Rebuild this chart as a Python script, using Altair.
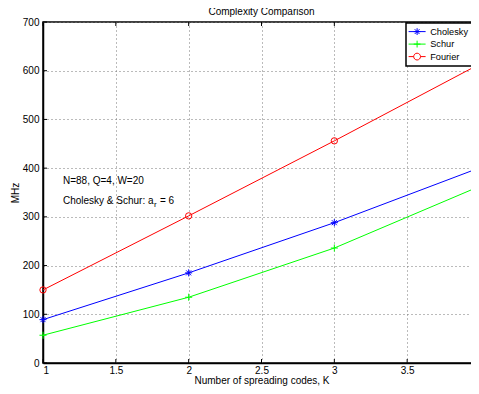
import altair as alt
import pandas as pd

# ---- data ----
K = [1, 2, 3, 4]
cholesky = [89, 185, 288, 401]
schur = [57, 135, 236, 363]
fourier = [150, 302, 456, 614]
series_names = ["Cholesky", "Schur", "Fourier"]
series_colors = ["#0000ff", "#00ff00", "#ff0000"]
x_ticks = [1, 1.5, 2, 2.5, 3, 3.5, 4]
y_ticks = [0, 100, 200, 300, 400, 500, 600, 700]

ann_text = ["N=88, Q=4, W=20", "Cholesky & Schur: a"]
ann_x = [1.137, 1.137]
ann_y = [373, 333]
sub_text = ["r", "= 6"]

W, H = 437, 341
FONT = "Liberation Sans"

rows = []
for name, vals in zip(series_names, [cholesky, schur, fourier]):
    for k, v in zip(K, vals):
        rows.append({"K": k, "MHz": v, "series": name})
df = pd.DataFrame(rows)

xs = alt.Scale(domain=[1, 4], nice=False, zero=False)
ys = alt.Scale(domain=[0, 700], nice=False)
cs = alt.Scale(domain=series_names, range=series_colors)

x_enc = alt.X("K:Q", scale=xs, axis=alt.Axis(
    values=x_ticks, format="~g", title="Number of spreading codes, K",
    titleX=W / 2, titleY=17, titleBaseline="middle", labelPadding=2))
y_enc = alt.Y("MHz:Q", scale=ys, axis=alt.Axis(
    values=y_ticks, title="MHz", titleX=-28, titleY=H / 2,
    titleBaseline="middle", titleAngle=270))

base = alt.Chart(df)

lines = base.mark_line(strokeWidth=1).encode(
    x=x_enc, y=y_enc, color=alt.Color("series:N", scale=cs, legend=None))

marker_paths = {
    "Cholesky": "M0,-1V1M-1,0H1M-0.7,-0.7L0.7,0.7M-0.7,0.7L0.7,-0.7",
    "Schur": "M0,-1V1M-1,0H1",
    "Fourier": "circle",
}
marker_sizes = {"Cholesky": 50, "Schur": 50, "Fourier": 40}

point_layers = []
for name in series_names:
    point_layers.append(
        base.transform_filter(alt.datum.series == name)
        .mark_point(shape=marker_paths[name], filled=False,
                    size=marker_sizes[name], strokeWidth=1, opacity=1)
        .encode(x="K:Q", y="MHz:Q",
                color=alt.Color("series:N", scale=cs, legend=None))
    )

# legend glyphs: line segment with marker (unit = 4px, symbol size 64)
legend_paths = [
    "M-1.5,0H2.75M0.625,-0.85V0.85M-0.225,0H1.475M0.025,-0.6L1.225,0.6M0.025,0.6L1.225,-0.6",
    "M-1.5,0H2.75M0.625,-0.85V0.85M-0.225,0H1.475",
    "M-1.5,0H-0.225M1.475,0H2.75M1.475,0A0.85,0.85 0 1,1 -0.225,0A0.85,0.85 0 1,1 1.475,0Z",
]

legend_layer = base.transform_filter("false").mark_point(
    filled=False, size=64, strokeWidth=1, opacity=1).encode(
    x=x_enc, y=y_enc,
    color=alt.Color("series:N", scale=cs, legend=alt.Legend(title=None)),
    shape=alt.Shape("series:N", scale=alt.Scale(domain=series_names, range=legend_paths),
                    legend=alt.Legend(title=None)),
)

ann_df = pd.DataFrame({"x": ann_x, "y": ann_y, "t": ann_text})
ann = alt.Chart(ann_df).mark_text(align="left", baseline="middle", font=FONT,
                                  fontSize=10, color="black").encode(
    x="x:Q", y="y:Q", text="t:N")

sub_df = pd.DataFrame({"x": [ann_x[1]], "y": [ann_y[1]], "r": [sub_text[0]], "eq": [sub_text[1]]})
sub_r = alt.Chart(sub_df).mark_text(align="left", baseline="middle", font=FONT,
                                    fontSize=8, color="black", dx=91, dy=4).encode(
    x="x:Q", y="y:Q", text="r:N")
sub_eq = alt.Chart(sub_df).mark_text(align="left", baseline="middle", font=FONT,
                                     fontSize=10, color="black", dx=97).encode(
    x="x:Q", y="y:Q", text="eq:N")

# inward tick marks (MATLAB style)
xt_df = pd.DataFrame({"xt": x_ticks})
yt_df = pd.DataFrame({"yt": y_ticks})
tk = dict(color="black", strokeWidth=1)
tick_bottom = alt.Chart(xt_df).mark_rule(**tk).encode(
    x="xt:Q", y=alt.value(H), y2=alt.value(H - 4))
tick_top = alt.Chart(xt_df).mark_rule(**tk).encode(
    x="xt:Q", y=alt.value(0), y2=alt.value(4))
tick_left = alt.Chart(yt_df).mark_rule(**tk).encode(
    y="yt:Q", x=alt.value(0), x2=alt.value(4))
tick_right = alt.Chart(yt_df).mark_rule(**tk).encode(
    y="yt:Q", x=alt.value(W), x2=alt.value(W - 4))

chart = alt.layer(
    legend_layer, tick_bottom, tick_top, tick_left, tick_right,
    lines, *point_layers, ann, sub_r, sub_eq
).properties(
    width=W, height=H,
    title=alt.Title("Complexity Comparison", font=FONT, fontSize=10,
                    fontWeight="normal", color="black", offset=0, anchor="middle"),
    autosize=alt.AutoSizeParams(type="none"),
    padding={"left": 35, "top": 14, "right": -9, "bottom": 23},
).configure_view(
    stroke="black", strokeWidth=1.5
).configure_axis(
    domainColor="black", domainWidth=1.5, grid=True, gridColor="#777777",
    gridDash=[1, 3], gridWidth=1, ticks=False, labelPadding=4,
    labelFont=FONT, labelFontSize=10, labelColor="black",
    titleFont=FONT, titleFontSize=10, titleColor="black", titleFontWeight="normal",
).configure_legend(
    orient="none", legendX=363, legendY=1, strokeColor="black", fillColor="white",
    strokeWidth=1.5, padding=4, rowPadding=1.5, labelFont=FONT, labelFontSize=9.2,
    labelColor="black", labelOffset=11, symbolStrokeWidth=1, symbolSize=64,
    cornerRadius=0,
)

chart.save("out.html", embed_options={"renderer": "svg", "actions": False})
